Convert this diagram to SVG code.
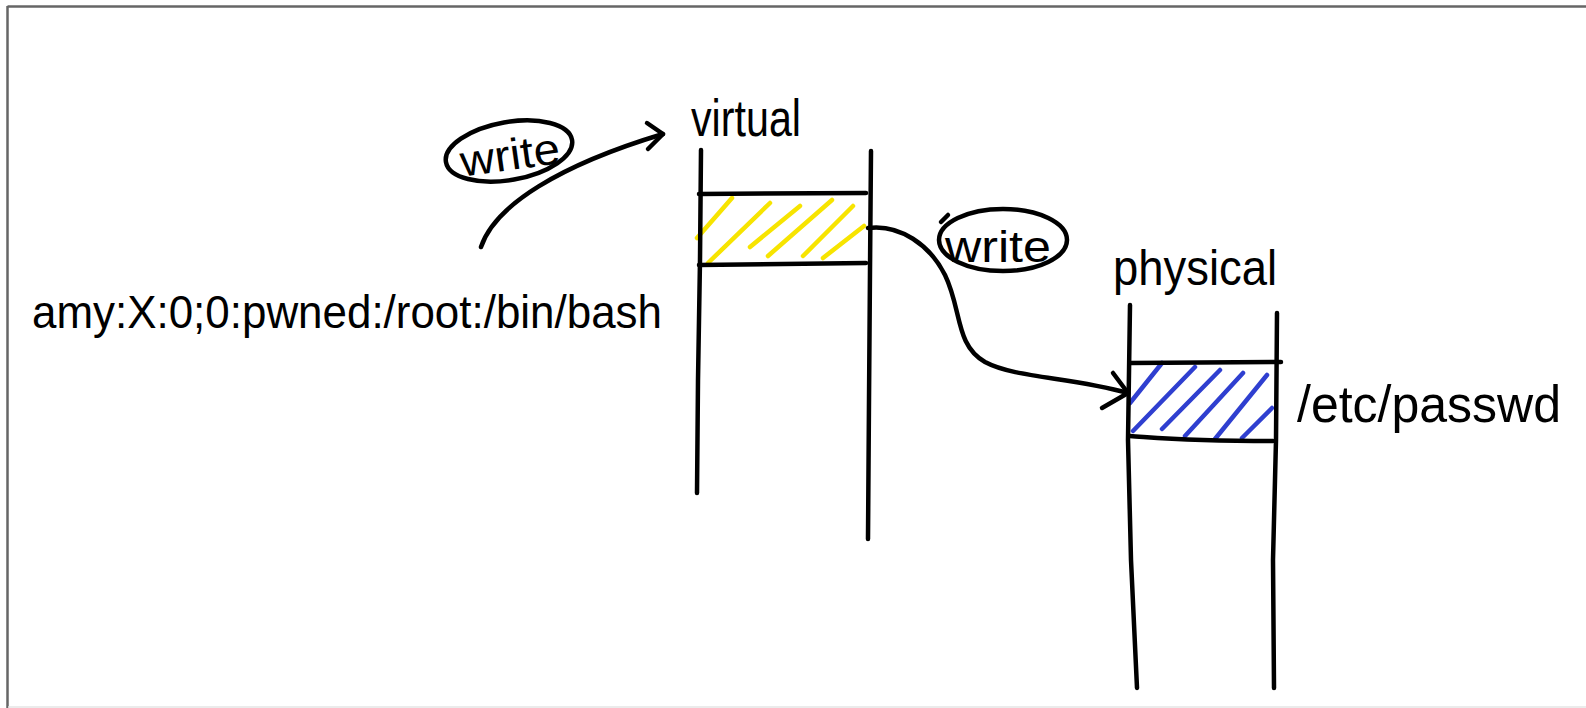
<svg xmlns="http://www.w3.org/2000/svg" width="1586" height="708" viewBox="0 0 1586 708">
<defs>
<style>
.ink{fill:none;stroke:#000;stroke-width:4.5;stroke-linecap:round;stroke-linejoin:round}
.hy{fill:none;stroke:#f7e400;stroke-width:4.5;stroke-linecap:round}
.hb{fill:none;stroke:#2f3fd0;stroke-width:4.5;stroke-linecap:round}
.t{font-family:"Liberation Sans",Arial,sans-serif;fill:#000}
</style>
</defs>
<rect width="1586" height="708" fill="#fff"/>
<g id="frame">
<line x1="7.5" y1="6.5" x2="1586" y2="6.5" stroke="#666" stroke-width="2.5"/>
<line x1="7.5" y1="6" x2="7.5" y2="708" stroke="#666" stroke-width="2.5"/>
<line x1="8" y1="707" x2="1586" y2="707" stroke="#e4e4e4" stroke-width="1.5"/>
</g>
<g id="payload">
<text class="t" x="32" y="328" font-size="47" textLength="630" lengthAdjust="spacingAndGlyphs">amy:X:0;0:pwned:/root:/bin/bash</text>
</g>
<g id="write-label-1">
<ellipse class="ink" cx="509" cy="151" rx="64" ry="29" transform="rotate(-10 509 151)"/>
<text class="t" x="460" y="170" font-size="44" textLength="100" lengthAdjust="spacingAndGlyphs" transform="rotate(-8 510 155)">write</text>
</g>
<g id="virtual">
<text class="t" x="691" y="136" font-size="52" textLength="110" lengthAdjust="spacingAndGlyphs">virtual</text>
<path class="hy" d="M697,238 L732,198 M708,263 L770,203 M750,247 L800,206 M768,256 L832,200 M803,256 L853,206 M823,258 L864,226"/>
<path class="ink" d="M701,150 L700,260 L698,380 L697,493"/>
<path class="ink" d="M871,151 L870,270 L869,400 L868,539"/>
<path class="ink" d="M699,194 L866,193"/>
<path class="ink" d="M699,265 L866,263"/>
</g>
<g id="write-label-2">
<ellipse class="ink" cx="1003" cy="240" rx="64" ry="31"/>
<path class="ink" d="M941,222 L948,215"/>
<text class="t" x="945" y="262" font-size="44" textLength="106" lengthAdjust="spacingAndGlyphs">write</text>
</g>
<g id="physical">
<text class="t" x="1113" y="285" font-size="50" textLength="164" lengthAdjust="spacingAndGlyphs">physical</text>
<path class="hb" d="M1130,403 L1162,363 M1133,431 L1195,367 M1162,429 L1220,370 M1185,436 L1243,373 M1215,439 L1267,375 M1242,438 L1272,408"/>
<path class="ink" d="M1130,305 L1128,440 L1131,560 L1137,688"/>
<path class="ink" d="M1277,313 L1276,440 L1273,560 L1274,688"/>
<path class="ink" d="M1130,363 L1281,362"/>
<path class="ink" d="M1130,436 C1160,438 1185,441 1273,441"/>
<text class="t" x="1297" y="422" font-size="52" textLength="264" lengthAdjust="spacingAndGlyphs">/etc/passwd</text>
</g>
<g id="connectors">
<path class="ink" d="M481,247 C495,205 560,165 663,134"/>
<path class="ink" d="M647,123 L663,134 L648,149"/>
<path class="ink" d="M868,228 C900,224 930,245 945,275 C962,310 955,345 985,362 C1015,378 1070,377 1128,393"/>
<path class="ink" d="M1113,373 L1128,393 L1102,408"/>
</g>
</svg>
